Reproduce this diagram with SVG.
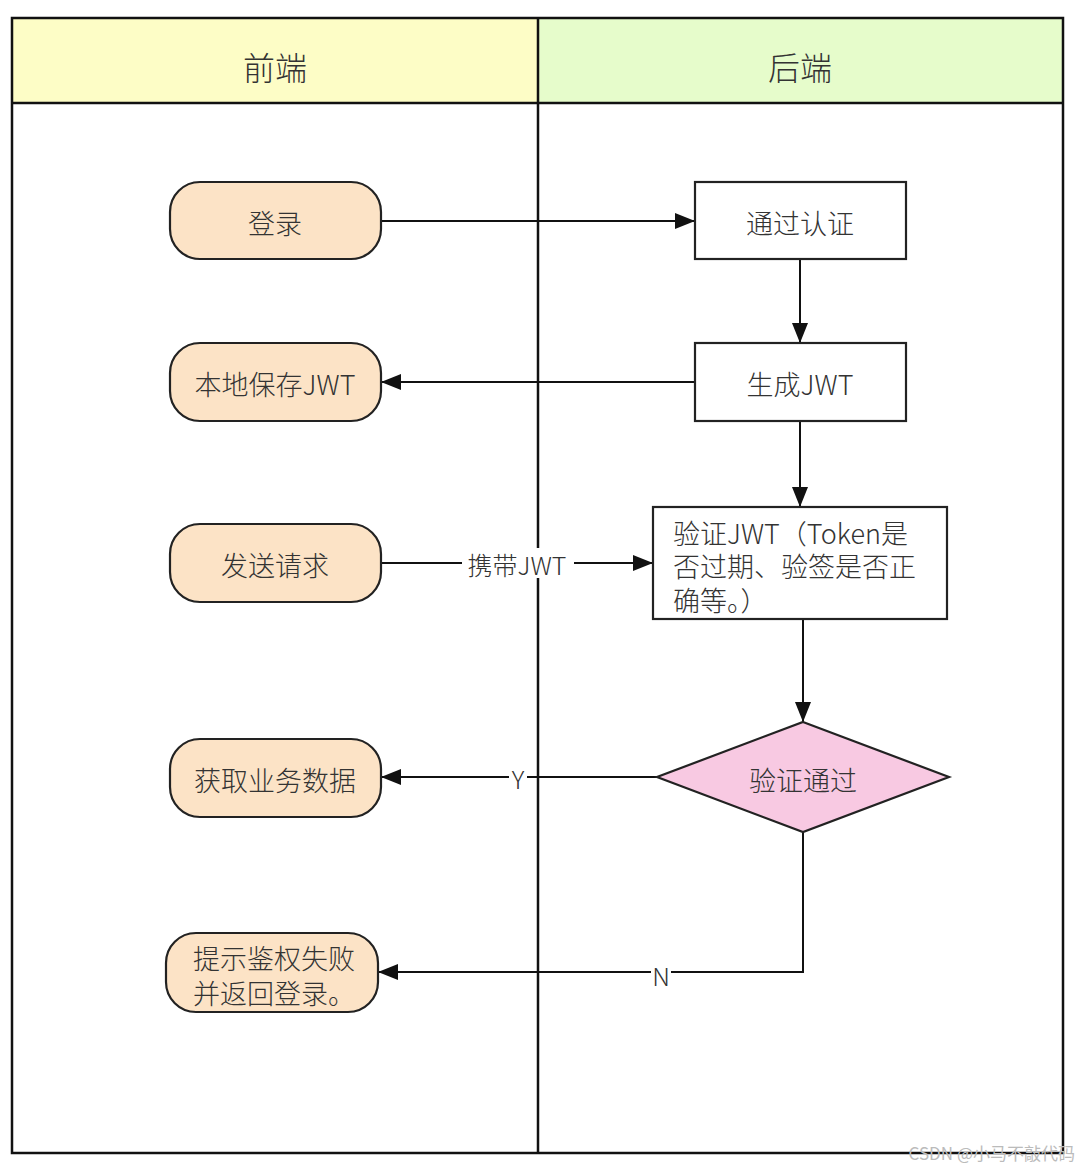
<svg xmlns="http://www.w3.org/2000/svg" width="1080" height="1168" viewBox="0 0 1080 1168">
<defs>
<marker id="arr" viewBox="0 0 20 16" refX="20" refY="8" markerWidth="20" markerHeight="16" markerUnits="userSpaceOnUse" orient="auto">
<path d="M0,0 L20,8 L0,16 Z" fill="#111"/>
</marker>
<style>
text{font-family:"Noto Sans CJK SC","Microsoft YaHei",sans-serif;fill:#333;font-weight:300;}
.t{font-size:27px;text-anchor:middle;dominant-baseline:central;}
.tl{font-size:27px;}
.h{font-size:32px;text-anchor:middle;dominant-baseline:central;}
.lbl{font-size:25px;text-anchor:middle;dominant-baseline:central;}
.fe{fill:#fce3c6;stroke:#222;stroke-width:2.2;}
.be{fill:#fff;stroke:#222;stroke-width:2.2;}
.ln{fill:none;stroke:#111;stroke-width:2;}
.frame{fill:none;stroke:#111;stroke-width:2.5;}
</style>
</defs>
<rect width="1080" height="1168" fill="#fff"/>
<g id="lanes">
<rect x="12" y="18" width="526" height="85" fill="#fdfdc6"/>
<rect x="538" y="18" width="525" height="85" fill="#e6fccb"/>
<rect x="12" y="18" width="1051" height="1135" class="frame"/>
<line x1="12" y1="103" x2="1063" y2="103" class="frame"/>
<line x1="538" y1="18" x2="538" y2="1153" class="frame"/>
<text x="275" y="66" class="h">前端</text>
<text x="800" y="66" class="h">后端</text>
</g>
<g id="connectors">
<line x1="381" y1="221" x2="695" y2="221" class="ln" marker-end="url(#arr)"/>
<line x1="800" y1="260" x2="800" y2="343" class="ln" marker-end="url(#arr)"/>
<line x1="695" y1="382" x2="381" y2="382" class="ln" marker-end="url(#arr)"/>
<line x1="800" y1="421" x2="800" y2="507" class="ln" marker-end="url(#arr)"/>
<line x1="381" y1="563" x2="653" y2="563" class="ln" marker-end="url(#arr)"/>
<rect x="462" y="548" width="112" height="30" fill="#fff"/>
<text x="517" y="564" class="lbl">携带JWT</text>
<line x1="803" y1="619" x2="803" y2="722" class="ln" marker-end="url(#arr)"/>
<line x1="657" y1="777" x2="381" y2="777" class="ln" marker-end="url(#arr)"/>
<rect x="509" y="762" width="18" height="30" fill="#fff"/>
<text x="518" y="778" class="lbl">Y</text>
<polyline points="803,832 803,972 378,972" class="ln" marker-end="url(#arr)"/>
<rect x="651" y="957" width="20" height="30" fill="#fff"/>
<text x="661" y="975" class="lbl">N</text>
</g>
<g id="login"><rect x="170" y="182" width="211" height="77" rx="30" class="fe"/><text x="275" y="222" class="t">登录</text></g>
<g id="save"><rect x="170" y="343" width="211" height="78" rx="30" class="fe"/><text x="275" y="383" class="t">本地保存JWT</text></g>
<g id="send"><rect x="170" y="524" width="211" height="78" rx="30" class="fe"/><text x="275" y="564" class="t">发送请求</text></g>
<g id="getdata"><rect x="170" y="739" width="211" height="78" rx="30" class="fe"/><text x="275" y="779" class="t">获取业务数据</text></g>
<g id="fail"><rect x="166" y="933" width="212" height="79" rx="30" class="fe"/><text class="tl"><tspan x="193" y="969">提示鉴权失败</tspan><tspan x="193" y="1004">并返回登录。</tspan></text></g>
<g id="auth"><rect x="695" y="182" width="211" height="77" class="be"/><text x="800" y="222" class="t">通过认证</text></g>
<g id="gen"><rect x="695" y="343" width="211" height="78" class="be"/><text x="800" y="383" class="t">生成JWT</text></g>
<g id="verify"><rect x="653" y="507" width="294" height="112" class="be"/>
<text class="tl"><tspan x="673" y="544">验证JWT（Token是</tspan><tspan x="673" y="577">否过期、验签是否正</tspan><tspan x="673" y="611">确等。）</tspan></text>
</g>
<g id="decision"><polygon points="803,722 949,777 803,832 657,777" fill="#f8c9e2" stroke="#222" stroke-width="2.2"/><text x="803" y="779" class="t">验证通过</text></g>
<text x="1075" y="1152" style="font-size:17px;text-anchor:end;dominant-baseline:central;fill:#bbb;font-weight:400;">CSDN @小马不敲代码</text>
</svg>
